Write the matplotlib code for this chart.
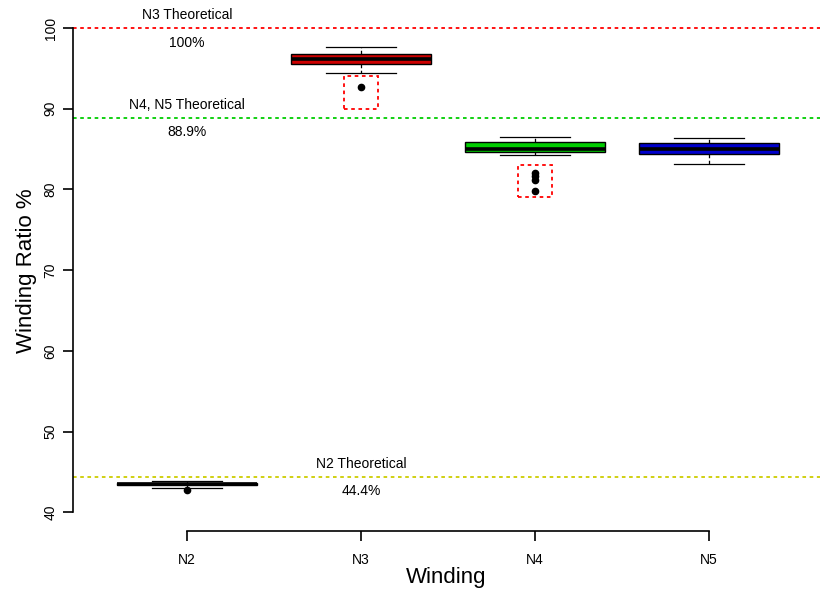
import matplotlib
matplotlib.use('Agg')
import matplotlib.pyplot as plt
from matplotlib.patches import Rectangle

plt.rcParams['font.family'] = ['Liberation Sans', 'DejaVu Sans']

# 数据
windings = ['N2', 'N3', 'N4', 'N5']
whis_lo = [43.0, 94.4, 84.25, 83.15]
q1 = [43.4, 95.6, 84.6, 84.4]
medians = [43.5, 96.2, 84.97, 84.97]
q3 = [43.6, 96.8, 85.9, 85.7]
whis_hi = [43.85, 97.6, 86.5, 86.35]
outliers = [[42.75], [92.7], [82.0, 81.6, 81.2, 79.8], []]
box_colors = ['#000000', '#CD0000', '#00CD00', '#0000CD']

theory_values = [100.0, 88.9, 44.4]
theory_names = ['N3 Theoretical', 'N4, N5 Theoretical', 'N2 Theoretical']
theory_pct = ['100%', '88.9%', '44.4%']
theory_colors = ['#FF0000', '#00CD00', '#CDCD00']
theory_label_x = [1, 1, 2]

# 红色虚线框标注的异常点区域 (x 中心, y 下限, y 上限)
highlight_x = [2, 3]
highlight_lo = [90.0, 79.0]
highlight_hi = [94.0, 83.0]

fig = plt.figure(figsize=(8.21, 5.93), dpi=100)
ax = fig.add_axes([73 / 821, 1 - 531 / 593, 747 / 821, 521 / 593])

stats = []
for i, name in enumerate(windings):
    stats.append(dict(label=name, whislo=whis_lo[i], q1=q1[i], med=medians[i],
                      q3=q3[i], whishi=whis_hi[i], fliers=outliers[i]))

positions = list(range(1, len(windings) + 1))
bp = ax.bxp(stats, positions=positions, widths=0.8, patch_artist=True,
            boxprops=dict(edgecolor='black', linewidth=1.0),
            medianprops=dict(color='black', linewidth=2.6),
            whiskerprops=dict(color='black', linewidth=0.9, linestyle=(0, (3, 2))),
            capprops=dict(color='black', linewidth=0.9),
            flierprops=dict(marker='o', markerfacecolor='black', markeredgecolor='black',
                            markersize=4.5, linestyle='none'),
            capwidths=0.4)
for patch, c in zip(bp['boxes'], box_colors):
    patch.set_facecolor(c)

# 理论值参考线
for val, name, pct, c, lx in zip(theory_values, theory_names, theory_pct,
                                 theory_colors, theory_label_x):
    ax.axhline(val, color=c, linestyle=(0, (2, 2)), linewidth=1.3, zorder=1)
    ax.text(lx, val + 1.6, name, ha='center', va='center', fontsize=10)
    ax.text(lx, val - 1.8, pct, ha='center', va='center', fontsize=10)

for x, lo, hi in zip(highlight_x, highlight_lo, highlight_hi):
    ax.add_patch(Rectangle((x - 0.1, lo), 0.2, hi - lo, fill=False,
                           edgecolor='#FF0000', linestyle=(0, (2, 2)), linewidth=1.3))

ax.set_xlim(1 - 114 / 174, 4 + (820 - 709) / 174)
ax.set_ylim(100 - (531 - 28) / 8.07, 100 + (28 - 10) / 8.07)

ax.spines['top'].set_visible(False)
ax.spines['right'].set_visible(False)
ax.spines['left'].set_bounds(40, 100)
ax.spines['bottom'].set_bounds(1, 4)
ax.spines['left'].set_linewidth(1.2)
ax.spines['bottom'].set_linewidth(1.2)

ax.set_xticks(positions)
ax.set_xticklabels(windings)
ax.set_yticks([40, 50, 60, 70, 80, 90, 100])
ax.tick_params(axis='both', direction='out', length=7, width=1.2, labelsize=10)
ax.tick_params(axis='x', pad=9)
ax.tick_params(axis='y', pad=4)
plt.setp(ax.get_yticklabels(), rotation=90, va='center')

ax.set_xlabel('Winding', fontsize=16, labelpad=0)
ax.set_ylabel('Winding Ratio %', fontsize=16, labelpad=5)

plt.savefig('out.png', dpi=100)
plt.close()
